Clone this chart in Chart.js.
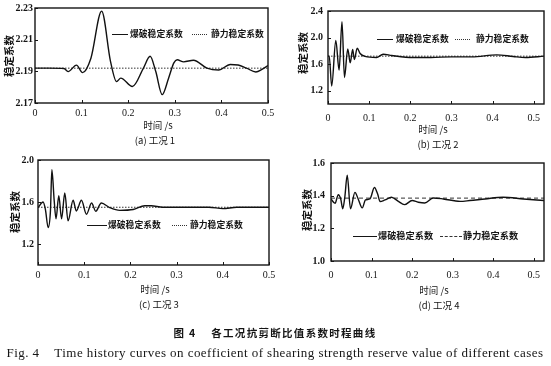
<!DOCTYPE html>
<html><head><meta charset="utf-8">
<script src="https://cdn.jsdelivr.net/npm/chart.js@4"></script>
<style>
html,body{margin:0;padding:0;background:#fff;}
#wrap{position:relative;width:551px;height:366px;overflow:hidden;background:#fff;}
canvas{position:absolute;left:0;top:0;}
.t{position:absolute;white-space:nowrap;color:#151515;font-family:"Noto Sans CJK SC",sans-serif;line-height:1;z-index:5;}
.yt{transform:translate(-50%,-50%) rotate(-90deg);font-weight:700;font-size:10.5px;}
.c{transform:translate(-50%,-50%);}
.lgt{transform:translateY(-50%);font-weight:700;font-size:8.8px;}
.sw{position:absolute;height:0;z-index:5;}
.solid{border-top:1.5px solid #151515;}
.dot{border-top:1.2px dotted #333;}
.dash{border-top:1.2px dashed #333;}
.ax{font-size:9.5px;}
</style></head>
<body><div id="wrap">
<canvas id="ca" width="551" height="366"></canvas>
<canvas id="cb" width="551" height="366"></canvas>
<canvas id="cc" width="551" height="366"></canvas>
<canvas id="cd" width="551" height="366"></canvas>

<!-- (a) -->
<div class="t yt" style="left:9px;top:56px;">稳定系数</div>
<div class="sw solid" style="left:112px;top:34px;width:16px;"></div>
<div class="t lgt" style="left:130px;top:34px;">爆破稳定系数</div>
<div class="sw dot" style="left:192px;top:34px;width:15px;"></div>
<div class="t lgt" style="left:211px;top:34px;">静力稳定系数</div>
<div class="t c ax" style="left:158px;top:126px;">时间 /s</div>
<div class="t c ax" style="left:155px;top:141px;">(a) 工况 1</div>

<!-- (b) -->
<div class="t yt" style="left:303px;top:53px;">稳定系数</div>
<div class="sw solid" style="left:377px;top:39px;width:16px;"></div>
<div class="t lgt" style="left:396px;top:39px;">爆破稳定系数</div>
<div class="sw dot" style="left:455px;top:39px;width:15px;"></div>
<div class="t lgt" style="left:476px;top:39px;">静力稳定系数</div>
<div class="t c ax" style="left:433px;top:130px;">时间 /s</div>
<div class="t c ax" style="left:438px;top:145px;">(b) 工况 2</div>

<!-- (c) -->
<div class="t yt" style="left:15px;top:212px;">稳定系数</div>
<div class="sw solid" style="left:87px;top:225px;width:20px;"></div>
<div class="t lgt" style="left:108px;top:225px;">爆破稳定系数</div>
<div class="sw dot" style="left:172px;top:225px;width:15px;"></div>
<div class="t lgt" style="left:190px;top:225px;">静力稳定系数</div>
<div class="t c ax" style="left:155px;top:290px;">时间 /s</div>
<div class="t c ax" style="left:159px;top:305px;">(c) 工况 3</div>

<!-- (d) -->
<div class="t yt" style="left:307px;top:210px;">稳定系数</div>
<div class="sw solid" style="left:353px;top:236px;width:24px;"></div>
<div class="t lgt" style="left:378px;top:236px;font-size:9.2px;">爆破稳定系数</div>
<div class="sw dash" style="left:440px;top:236px;width:22px;"></div>
<div class="t lgt" style="left:463px;top:236px;font-size:9.2px;">静力稳定系数</div>
<div class="t c ax" style="left:434px;top:291px;">时间 /s</div>
<div class="t c ax" style="left:439px;top:306px;">(d) 工况 4</div>

<!-- figure caption -->
<div class="t c" style="left:275px;top:333px;font-size:10.5px;font-weight:700;letter-spacing:1.3px;">图 4&nbsp;&nbsp;&nbsp;&nbsp;各工况抗剪断比值系数时程曲线</div>
<div class="t c" style="left:275px;top:352px;font-size:13px;letter-spacing:0.45px;font-family:'Liberation Serif',serif;">Fig. 4&nbsp;&nbsp;&nbsp;&nbsp;Time history curves on coefficient of shearing strength reserve value of different cases</div>
</div>

<script>
// ---- data ----
// (a) 工况 1
const timeA = [0, 0.03, 0.062, 0.071, 0.089, 0.102, 0.12, 0.143, 0.162, 0.175, 0.184, 0.209, 0.233, 0.247, 0.259, 0.273, 0.287, 0.298, 0.305, 0.319, 0.340, 0.369, 0.394, 0.419, 0.436, 0.454, 0.474, 0.487, 0.5];
const blastA = [2.192, 2.192, 2.1918, 2.1898, 2.1939, 2.1892, 2.1983, 2.228, 2.1963, 2.1835, 2.1857, 2.1804, 2.1922, 2.1995, 2.190, 2.1753, 2.186, 2.1953, 2.1973, 2.196, 2.197, 2.192, 2.1908, 2.1943, 2.194, 2.192, 2.1896, 2.1912, 2.1937];
const staticA = [2.192, 2.192];
const yTicksA = [2.17, 2.19, 2.21, 2.23];

// (b) 工况 2
const timeB = [0, 0.003, 0.009, 0.019, 0.027, 0.034, 0.040, 0.048, 0.054, 0.060, 0.064, 0.071, 0.078, 0.09, 0.118, 0.134, 0.155, 0.207, 0.25, 0.3, 0.35, 0.41, 0.45, 0.48, 0.525];
const blastB = [1.72, 1.72, 1.27, 1.955, 1.51, 2.24, 1.40, 1.83, 1.62, 1.82, 1.67, 1.84, 1.76, 1.716, 1.70, 1.75, 1.73, 1.70, 1.70, 1.71, 1.71, 1.74, 1.715, 1.70, 1.72];
const staticB = [1.72, 1.72];
const yTicksB = [1.2, 1.6, 2.0, 2.4];

// (c) 工况 3
const timeC = [0, 0.011, 0.016, 0.022, 0.027, 0.030, 0.035, 0.039, 0.045, 0.051, 0.058, 0.065, 0.076, 0.083, 0.094, 0.105, 0.116, 0.125, 0.137, 0.155, 0.177, 0.206, 0.231, 0.245, 0.27, 0.32, 0.37, 0.40, 0.43, 0.5];
const blastC = [1.547, 1.60, 1.53, 1.357, 1.52, 1.907, 1.616, 1.44, 1.66, 1.44, 1.685, 1.42, 1.616, 1.515, 1.616, 1.483, 1.59, 1.512, 1.59, 1.547, 1.52, 1.528, 1.565, 1.565, 1.55, 1.55, 1.55, 1.537, 1.55, 1.55];
const staticC = [1.55, 1.55];
const yTicksC = [1.2, 1.6, 2.0];

// (d) 工况 4
const timeD = [0, 0.01, 0.018, 0.024, 0.029, 0.034, 0.040, 0.048, 0.059, 0.067, 0.077, 0.085, 0.096, 0.107, 0.115, 0.121, 0.133, 0.149, 0.166, 0.181, 0.200, 0.215, 0.231, 0.252, 0.277, 0.318, 0.342, 0.38, 0.424, 0.474, 0.525];
const blastD = [1.38, 1.353, 1.406, 1.38, 1.32, 1.39, 1.525, 1.32, 1.42, 1.38, 1.325, 1.374, 1.38, 1.45, 1.41, 1.364, 1.374, 1.39, 1.365, 1.345, 1.37, 1.36, 1.355, 1.386, 1.38, 1.365, 1.37, 1.38, 1.39, 1.38, 1.37];
const staticD = [1.385, 1.385];
const yTicksD = [1.0, 1.2, 1.4, 1.6];

const xTicks = [0, 0.1, 0.2, 0.3, 0.4, 0.5];

// ---- drawing ----
Chart.defaults.font.family = '"Liberation Serif", serif';
Chart.defaults.font.size = 10;
Chart.defaults.color = '#151515';

const frame = {
  id: 'frame',
  afterDatasetsDraw(chart) {
    const {ctx, chartArea: a, scales: {x, y}} = chart;
    ctx.save();
    ctx.strokeStyle = '#151515';
    ctx.lineWidth = 1;
    x.ticks.forEach(t => {
      const px = Math.round(x.getPixelForValue(t.value)) + 0.5;
      ctx.beginPath(); ctx.moveTo(px, a.bottom); ctx.lineTo(px, a.bottom - 3); ctx.stroke();
    });
    y.ticks.forEach(t => {
      const py = Math.round(y.getPixelForValue(t.value)) + 0.5;
      ctx.beginPath(); ctx.moveTo(a.left, py); ctx.lineTo(a.left + 3, py); ctx.stroke();
    });
    ctx.lineWidth = 1.4;
    ctx.strokeRect(a.left, a.top, a.right - a.left, a.bottom - a.top);
    ctx.restore();
  }
};

const YW = 30, XH = 20;

function makeChart(id, p) {
  new Chart(document.getElementById(id), {
    type: 'line',
    data: {
      datasets: [
        { data: p.t.map((tv, i) => ({x: tv, y: p.v[i]})), borderColor: '#111', borderWidth: 1.4,
          pointRadius: 0, cubicInterpolationMode: 'monotone', tension: p.tension, fill: false },
        { data: [{x: 0, y: p.s[0]}, {x: p.xmax, y: p.s[1]}], borderColor: '#333', borderWidth: 1,
          borderDash: p.dash, pointRadius: 0, fill: false }
      ]
    },
    options: {
      responsive: false, animation: false, devicePixelRatio: 1,
      layout: { padding: { left: p.area[0] - YW, top: p.area[1], right: 551 - p.area[2], bottom: 366 - p.area[3] - XH } },
      plugins: { legend: { display: false }, tooltip: { enabled: false } },
      scales: {
        x: {
          type: 'linear', min: 0, max: p.xmax,
          grid: { display: false, drawTicks: false }, border: { display: false },
          afterFit: s => { s.height = XH; },
          afterBuildTicks: s => { s.ticks = xTicks.map(v => ({value: v})); },
          ticks: { padding: p.xpad, autoSkip: false, maxRotation: 0,
                   callback: v => v === 0 ? '0' : v.toFixed(1) }
        },
        y: {
          type: 'linear', min: p.ymin, max: p.ymax,
          grid: { display: false, drawTicks: false }, border: { display: false },
          afterFit: s => { s.width = YW; },
          afterBuildTicks: s => { s.ticks = p.yt.map(v => ({value: v})); },
          ticks: { padding: p.ypad, autoSkip: false, font: {weight: 'bold', size: 10},
                   callback: v => v.toFixed(p.dec) }
        }
      }
    },
    plugins: [frame]
  });
}

makeChart('ca', { t: timeA, v: blastA, s: staticA, yt: yTicksA, ymin: 2.17, ymax: 2.23, dec: 2,
  xmax: 0.5, area: [35, 6, 268, 103], xpad: 4, ypad: 2, dash: [1.5, 1.5], tension: 0.4 });
makeChart('cb', { t: timeB, v: blastB, s: staticB, yt: yTicksB, ymin: 1.0, ymax: 2.4, dec: 1,
  xmax: 0.525, area: [328, 10, 544, 104], xpad: 8, ypad: 5, dash: [1.5, 1.5], tension: 0.4 });
makeChart('cc', { t: timeC, v: blastC, s: staticC, yt: yTicksC, ymin: 1.0, ymax: 2.0, dec: 1,
  xmax: 0.5, area: [38, 160, 269, 265], xpad: 4, ypad: 4, dash: [1.5, 1.5], tension: 0.4 });
makeChart('cd', { t: timeD, v: blastD, s: staticD, yt: yTicksD, ymin: 1.0, ymax: 1.6, dec: 1,
  xmax: 0.525, area: [331, 163, 544, 261], xpad: 8, ypad: 6, dash: [4, 3], tension: 0.2 });
</script>
</body></html>
